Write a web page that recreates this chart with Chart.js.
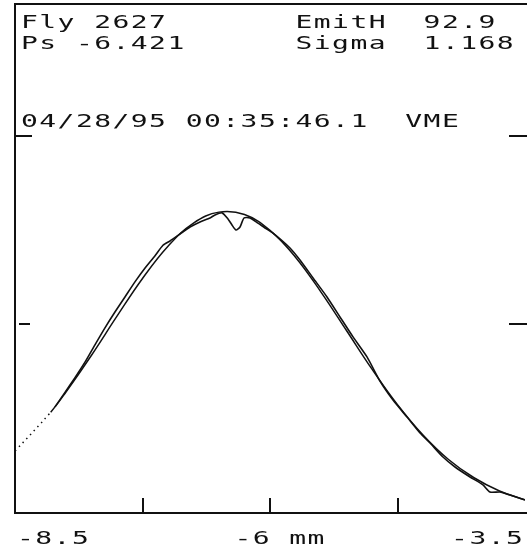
<!DOCTYPE html>
<html>
<head>
<meta charset="utf-8">
<script src="https://cdn.jsdelivr.net/npm/chart.js@4/dist/chart.umd.min.js"></script>
<style>
  html, body { margin: 0; padding: 0; background: #fff; }
  #wrap { width: 527px; height: 551px; position: relative; }
</style>
</head>
<body>
<div id="wrap"><canvas id="c" width="527" height="551"></canvas></div>
<script>
// Horizontal beam profile: measured wire-scan signal and its Gaussian fit (position in mm).
const fitX = [-8.5, -8.15, -8.0, -7.75, -7.5, -7.25, -7.0, -6.75, -6.5, -6.25, -6.0,
              -5.75, -5.5, -5.25, -5.0, -4.75, -4.5, -4.25, -4.0, -3.75, -3.5];
const fitY = [0.328, 0.535, 0.642, 0.837, 1.044, 1.244, 1.415, 1.538, 1.596, 1.583, 1.499,
              1.357, 1.172, 0.968, 0.763, 0.575, 0.414, 0.284, 0.187, 0.117, 0.070];

const scanX = [-8.108, -8.010, -7.912, -7.814, -7.716, -7.618, -7.520, -7.422, -7.324, -7.225,
               -7.127, -7.049, -6.980, -6.882, -6.784, -6.686, -6.588, -6.539, -6.471, -6.412,
               -6.373, -6.333, -6.294, -6.255, -6.196, -6.118, -6.049, -5.971, -5.804, -5.706,
               -5.578, -5.441, -5.314, -5.186, -5.049, -4.922, -4.794, -4.657, -4.529, -4.431,
               -4.304, -4.186, -4.039, -3.912, -3.843, -3.745, -3.647, -3.500];
const scanY = [0.563, 0.640, 0.718, 0.800, 0.892, 0.982, 1.066, 1.146, 1.226, 1.300,
               1.365, 1.420, 1.443, 1.480, 1.517, 1.544, 1.565, 1.581, 1.592, 1.560,
               1.528, 1.501, 1.517, 1.565, 1.565, 1.538, 1.512, 1.485, 1.406, 1.342,
               1.247, 1.146, 1.040, 0.934, 0.828, 0.700, 0.599, 0.509, 0.424, 0.371,
               0.297, 0.244, 0.191, 0.149, 0.111, 0.111, 0.095, 0.069];

const xTicks = [-8.5, -7.25, -6, -4.75, -3.5];
const xTickLabels = ['-8.5', '', '-6 mm', '', '-3.5'];
const yTicks = [1, 2];

const headerLeft = ['Fly 2627', 'Ps -6.421'];
const headerRight = ['EmitH  92.9', 'Sigma  1.168'];
const stampLine = '04/28/95 00:35:46.1  VME';

// Fixed-pitch text, drawn cell by cell to mimic the terminal font.
const ADV = 18.3;
function drawMono(ctx, text, x, baseline) {
  ctx.font = '17.5px "DejaVu Sans Mono"';
  ctx.fillStyle = '#111';
  ctx.textAlign = 'left';
  ctx.textBaseline = 'alphabetic';
  for (let i = 0; i < text.length; i++) {
    const ch = text[i];
    if (ch === ' ') continue;
    ctx.save();
    ctx.translate(x + i * ADV, baseline);
    ctx.scale(1.6, 1);
    ctx.fillText(ch, 0, 0);
    ctx.restore();
  }
}

const framePlugin = {
  id: 'frame',
  afterDraw(chart) {
    const ctx = chart.ctx;
    const { left, top, right, bottom } = chart.chartArea;
    const xs = chart.scales.x, ys = chart.scales.y;
    const W = chart.width;
    ctx.save();
    ctx.strokeStyle = '#111';
    ctx.lineWidth = 2;
    ctx.beginPath();
    ctx.moveTo(left, top - 1); ctx.lineTo(left, bottom + 1);
    ctx.moveTo(left - 1, top); ctx.lineTo(W, top);
    ctx.moveTo(left - 1, bottom); ctx.lineTo(W, bottom);
    ctx.stroke();

    // inward tick marks
    ctx.beginPath();
    xTicks.forEach((v, i) => {
      if (i === 0 || i === xTicks.length - 1) return;
      const px = Math.round(xs.getPixelForValue(v));
      ctx.moveTo(px, bottom - 15); ctx.lineTo(px, bottom);
    });
    yTicks.forEach(v => {
      const py = Math.round(ys.getPixelForValue(v));
      const inset = v === 1 ? 4 : 0;
      const len = v === 1 ? 15 : 17;
      ctx.moveTo(left + inset, py); ctx.lineTo(left + len, py);
      ctx.moveTo(W - 18, py); ctx.lineTo(W, py);
    });
    ctx.stroke();

    // axis labels
    xTicks.forEach((v, i) => {
      const lab = xTickLabels[i];
      if (!lab) return;
      const px = xs.getPixelForValue(v);
      let sx;
      if (i === 0) sx = px + 2;
      else if (i === xTicks.length - 1) sx = px - 6 - ((lab.length - 1) * ADV + 13);
      else sx = px - 2 * ADV + 1;
      drawMono(ctx, lab, sx, bottom + 31);
    });

    // header block
    drawMono(ctx, headerLeft[0], 21, 28);
    drawMono(ctx, headerLeft[1], 21, 49);
    drawMono(ctx, headerRight[0], 21 + 15 * ADV, 28);
    drawMono(ctx, headerRight[1], 21 + 15 * ADV, 49);
    drawMono(ctx, stampLine, 21, 127);
    ctx.restore();
  }
};

new Chart(document.getElementById('c'), {
  type: 'scatter',
  data: {
    datasets: [
      {
        label: 'Fit',
        data: fitX.map((x, i) => ({ x, y: fitY[i] })),
        showLine: true,
        borderColor: '#111',
        borderWidth: 1.5,
        pointRadius: 0,
        tension: 0.4,
        segment: {
          borderDash: ctx => (ctx.p1.parsed.x <= -8.15 ? [1.5, 4] : undefined)
        }
      },
      {
        label: 'Scan',
        data: scanX.map((x, i) => ({ x, y: scanY[i] })),
        showLine: true,
        borderColor: '#111',
        borderWidth: 1.6,
        pointRadius: 0,
        tension: 0.2
      }
    ]
  },
  options: {
    responsive: false,
    animation: false,
    devicePixelRatio: 1,
    layout: { padding: { left: 15, right: 2, top: 4, bottom: 38 } },
    scales: {
      x: { type: 'linear', min: -8.5, max: -3.5, display: false },
      y: { type: 'linear', min: 0, max: 2.7, display: false }
    },
    plugins: { legend: { display: false }, tooltip: { enabled: false } }
  },
  plugins: [framePlugin]
});
</script>
</body>
</html>
